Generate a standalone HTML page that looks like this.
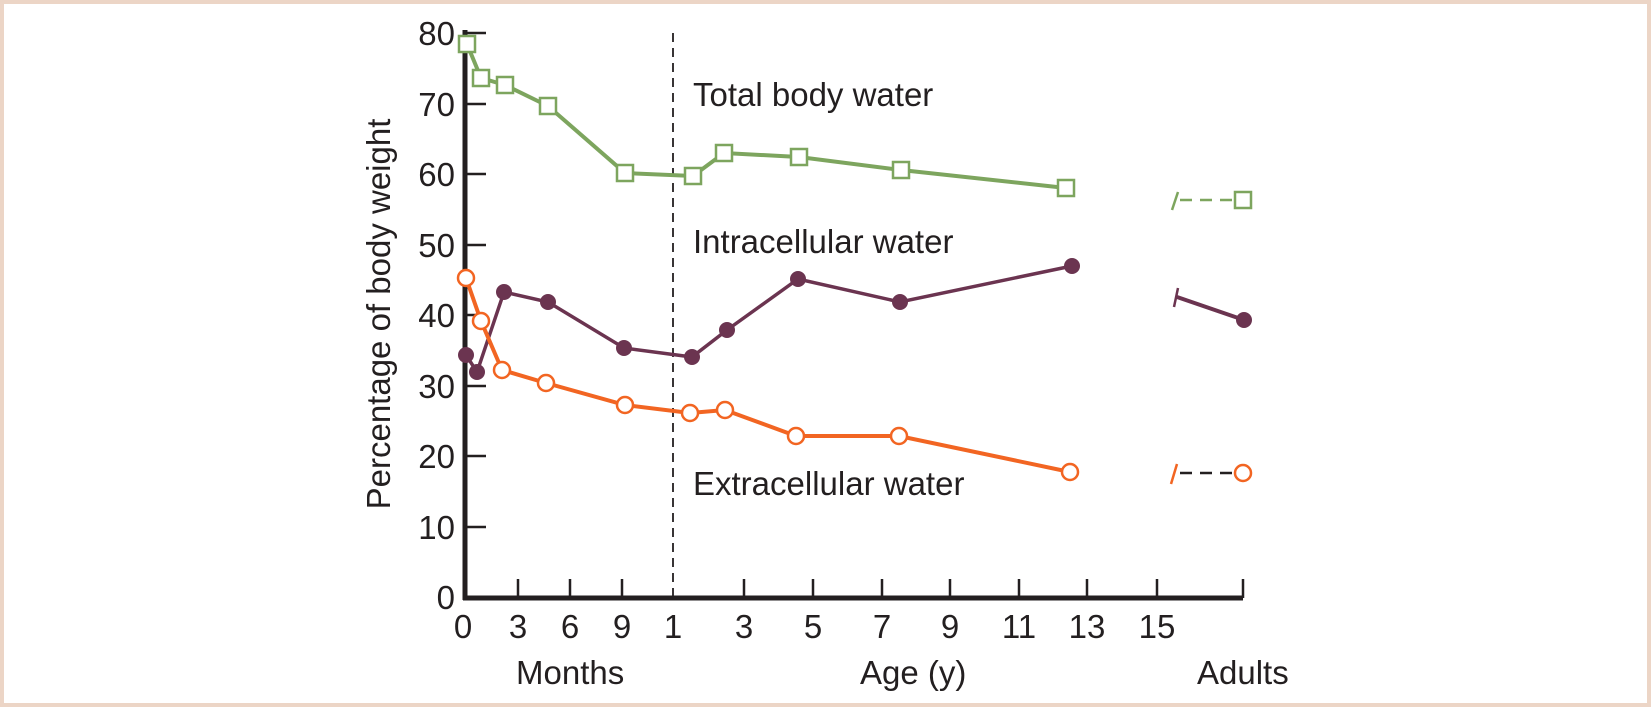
<!DOCTYPE html>
<html><head><meta charset="utf-8"><style>
html,body{margin:0;padding:0;background:#fff}
svg{display:block}
text{font-family:"Liberation Sans",Arial,sans-serif;fill:#231f20}
</style></head><body>
<svg width="1651" height="707" viewBox="0 0 1651 707" xmlns="http://www.w3.org/2000/svg">
<rect x="2" y="2" width="1647" height="703" fill="#fff" stroke="#ecd5c6" stroke-width="4"/>
<!-- axes -->
<line x1="465" y1="30" x2="465" y2="600" stroke="#231f20" stroke-width="5"/>
<line x1="463" y1="598" x2="1243" y2="598" stroke="#231f20" stroke-width="5"/>
<g stroke="#231f20" stroke-width="2.5">
<line x1="465" y1="33" x2="486" y2="33"/><line x1="465" y1="104" x2="486" y2="104"/>
<line x1="465" y1="174" x2="486" y2="174"/><line x1="465" y1="245" x2="486" y2="245"/>
<line x1="465" y1="315" x2="486" y2="315"/><line x1="465" y1="386" x2="486" y2="386"/>
<line x1="465" y1="456" x2="486" y2="456"/><line x1="465" y1="527" x2="486" y2="527"/>
<line x1="518" y1="579" x2="518" y2="598"/><line x1="570" y1="579" x2="570" y2="598"/>
<line x1="622" y1="579" x2="622" y2="598"/><line x1="744" y1="579" x2="744" y2="598"/>
<line x1="813" y1="579" x2="813" y2="598"/><line x1="882" y1="579" x2="882" y2="598"/>
<line x1="950" y1="579" x2="950" y2="598"/><line x1="1019" y1="579" x2="1019" y2="598"/>
<line x1="1087" y1="579" x2="1087" y2="598"/><line x1="1157" y1="579" x2="1157" y2="598"/>
<line x1="1243" y1="579" x2="1243" y2="598"/>
</g>
<line x1="673" y1="33" x2="673" y2="598" stroke="#231f20" stroke-width="1.8" stroke-dasharray="9,6"/>
<g font-size="33" text-anchor="end">
<text x="455" y="45">80</text><text x="455" y="116">70</text><text x="455" y="186">60</text>
<text x="455" y="257">50</text><text x="455" y="327">40</text><text x="455" y="398">30</text>
<text x="455" y="468">20</text><text x="455" y="539">10</text><text x="455" y="609">0</text>
</g>
<g font-size="33" text-anchor="middle">
<text x="463" y="638">0</text><text x="518" y="638">3</text><text x="570" y="638">6</text>
<text x="622" y="638">9</text><text x="673" y="638">1</text><text x="744" y="638">3</text>
<text x="813" y="638">5</text><text x="882" y="638">7</text><text x="950" y="638">9</text>
<text x="1019" y="638">11</text><text x="1087" y="638">13</text><text x="1157" y="638">15</text>
</g>
<g font-size="33">
<text x="516" y="684">Months</text><text x="860" y="684">Age (y)</text><text x="1197" y="684">Adults</text>
<text x="693" y="106">Total body water</text>
<text x="693" y="253">Intracellular water</text>
<text x="693" y="495">Extracellular water</text>
</g>
<text transform="translate(390,314) rotate(-90)" font-size="33" text-anchor="middle">Percentage of body weight</text>
<!-- green -->
<polyline fill="none" stroke="#7da55e" stroke-width="4" points="467,44 481,78 505,85 548,106 625,173 693,176 724,153 799,157 901,170 1066,188"/>
<g fill="#fff" stroke="#7da55e" stroke-width="2.5">
<rect x="459" y="36" width="16" height="16"/><rect x="473" y="70" width="16" height="16"/>
<rect x="497" y="77" width="16" height="16"/><rect x="540" y="98" width="16" height="16"/>
<rect x="617" y="165" width="16" height="16"/><rect x="685" y="168" width="16" height="16"/>
<rect x="716" y="145" width="16" height="16"/><rect x="791" y="149" width="16" height="16"/>
<rect x="893" y="162" width="16" height="16"/><rect x="1058" y="180" width="16" height="16"/>
<rect x="1235" y="192" width="16" height="16"/>
</g>
<line x1="1172" y1="210" x2="1178" y2="192" stroke="#7da55e" stroke-width="2.5"/>
<line x1="1180" y1="200" x2="1235" y2="200" stroke="#7da55e" stroke-width="2.5" stroke-dasharray="12,8"/>
<!-- purple -->
<polyline fill="none" stroke="#6b3450" stroke-width="3.5" points="466,355 477,372 504,292 548,302 624,348 692,357 727,330 798,279 900,302 1072,266"/>
<line x1="1177" y1="297" x2="1244" y2="320" stroke="#6b3450" stroke-width="4"/>
<line x1="1174" y1="307" x2="1178" y2="288" stroke="#6b3450" stroke-width="2.5"/>
<g fill="#6b3450">
<circle cx="466" cy="355" r="8"/><circle cx="477" cy="372" r="8"/><circle cx="504" cy="292" r="8"/>
<circle cx="548" cy="302" r="8"/><circle cx="624" cy="348" r="8"/><circle cx="692" cy="357" r="8"/>
<circle cx="727" cy="330" r="8"/><circle cx="798" cy="279" r="8"/><circle cx="900" cy="302" r="8"/>
<circle cx="1072" cy="266" r="8"/><circle cx="1244" cy="320" r="8"/>
</g>
<!-- orange -->
<polyline fill="none" stroke="#f26522" stroke-width="4" points="466,278 481,321 502,370 546,383 625,405 690,413 725,410 796,436 899,436 1070,472"/>
<g fill="#fff" stroke="#f26522" stroke-width="2.5">
<circle cx="466" cy="278" r="8"/><circle cx="481" cy="321" r="8"/><circle cx="502" cy="370" r="8"/>
<circle cx="546" cy="383" r="8"/><circle cx="625" cy="405" r="8"/><circle cx="690" cy="413" r="8"/>
<circle cx="725" cy="410" r="8"/><circle cx="796" cy="436" r="8"/><circle cx="899" cy="436" r="8"/>
<circle cx="1070" cy="472" r="8"/><circle cx="1243" cy="473" r="8"/>
</g>
<line x1="1171" y1="484" x2="1177" y2="464" stroke="#f26522" stroke-width="2.5"/>
<line x1="1180" y1="473" x2="1235" y2="473" stroke="#231f20" stroke-width="2.5" stroke-dasharray="12,8"/>
</svg>
</body></html>
